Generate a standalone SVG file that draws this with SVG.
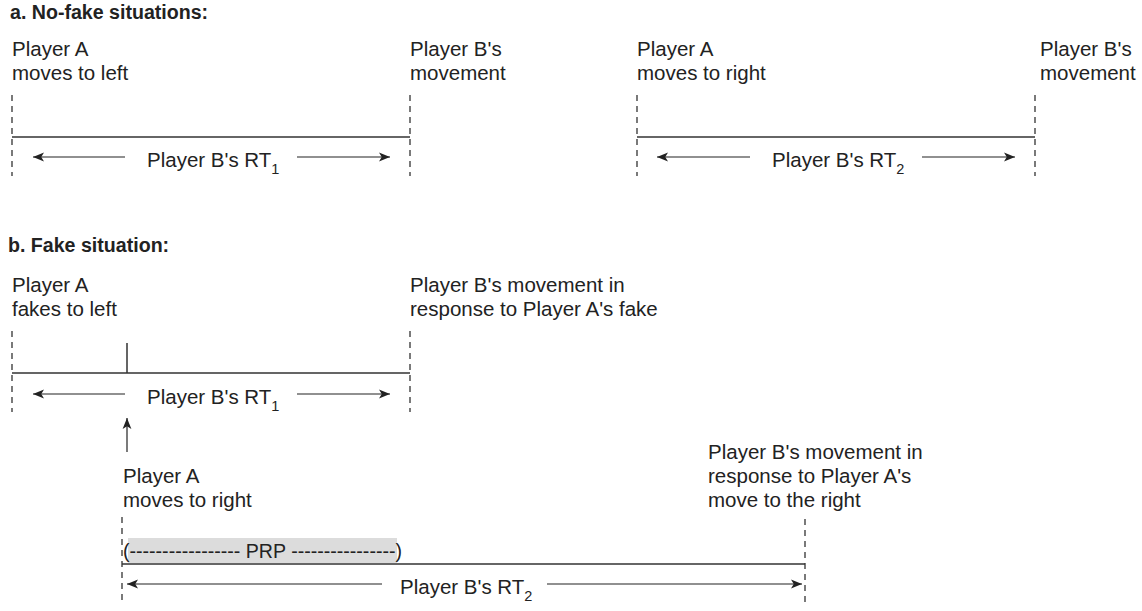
<svg xmlns="http://www.w3.org/2000/svg" width="1142" height="611" viewBox="0 0 1142 611">
<defs>
<marker id="ah" viewBox="0 0 10 10" refX="10" refY="5" markerWidth="11" markerHeight="11" markerUnits="userSpaceOnUse" orient="auto-start-reverse">
<path d="M0,1 L10,5 L0,9 L2.5,5 z" fill="#222"/>
</marker>
<style>
text{font-family:"Liberation Sans",Arial,sans-serif;font-size:20.5px;fill:#222}
.t{font-weight:bold;font-size:19.6px}
.sub{font-size:14.5px}
.d{stroke:#222;stroke-width:1.2;stroke-dasharray:6,5;fill:none}
.s{stroke:#333;stroke-width:1.5;fill:none}
.a{stroke:#222;stroke-width:1.2;fill:none;marker-end:url(#ah)}
</style>
</defs>
<rect width="1142" height="611" fill="#fff"/>
<text class="t" x="10" y="18.5">a. No-fake situations:</text>
<text class="t" x="8" y="252">b. Fake situation:</text>

<g id="a-left">
<text x="12" y="56">Player A</text>
<text x="12" y="80">moves to left</text>
<text x="410" y="56">Player B's</text>
<text x="410" y="80">movement</text>
<text x="147" y="167">Player B's RT<tspan class="sub" dy="7">1</tspan></text>
</g>
<g id="a-right">
<text x="637" y="56">Player A</text>
<text x="637" y="80">moves to right</text>
<text x="1040" y="56">Player B's</text>
<text x="1040" y="80">movement</text>
<text x="772" y="167">Player B's RT<tspan class="sub" dy="7">2</tspan></text>
</g>
<g id="b-top">
<text x="12" y="292">Player A</text>
<text x="12" y="316">fakes to left</text>
<text x="410" y="292">Player B's movement in</text>
<text x="410" y="316">response to Player A's fake</text>
<text x="147" y="404">Player B's RT<tspan class="sub" dy="7">1</tspan></text>
</g>
<g id="b-bottom">
<text x="123" y="483">Player A</text>
<text x="123" y="507">moves to right</text>
<text x="708" y="459">Player B's movement in</text>
<text x="708" y="483">response to Player A's</text>
<text x="708" y="507">move to the right</text>
<rect x="128" y="538" width="269" height="25" fill="#dcdcdc"/>
<text x="123" y="558" textLength="279" lengthAdjust="spacingAndGlyphs">(----------------- PRP ----------------)</text>
<text x="400" y="594">Player B's RT<tspan class="sub" dy="7">2</tspan></text>
</g>

<g id="connectors">
<path class="d" d="M12,95V176M410,95V176"/>
<path class="s" d="M12,137H410"/>
<path class="a" d="M125,157H33"/>
<path class="a" d="M297,157H390"/>

<path class="d" d="M637,95V176M1035,95V176"/>
<path class="s" d="M637,137H1035"/>
<path class="a" d="M750,157H657"/>
<path class="a" d="M922,157H1015"/>

<path class="d" d="M12,331V412M410,331V412"/>
<path class="s" d="M12,373H410M127,343V373"/>
<path class="a" d="M125,394H33"/>
<path class="a" d="M297,394H390"/>
<path class="a" d="M127,452V418"/>

<path class="d" d="M122,517V605M805,519V605"/>
<path class="s" d="M122,564H805"/>
<path class="a" d="M382,584H127"/>
<path class="a" d="M547,584H802"/>
</g>
</svg>
